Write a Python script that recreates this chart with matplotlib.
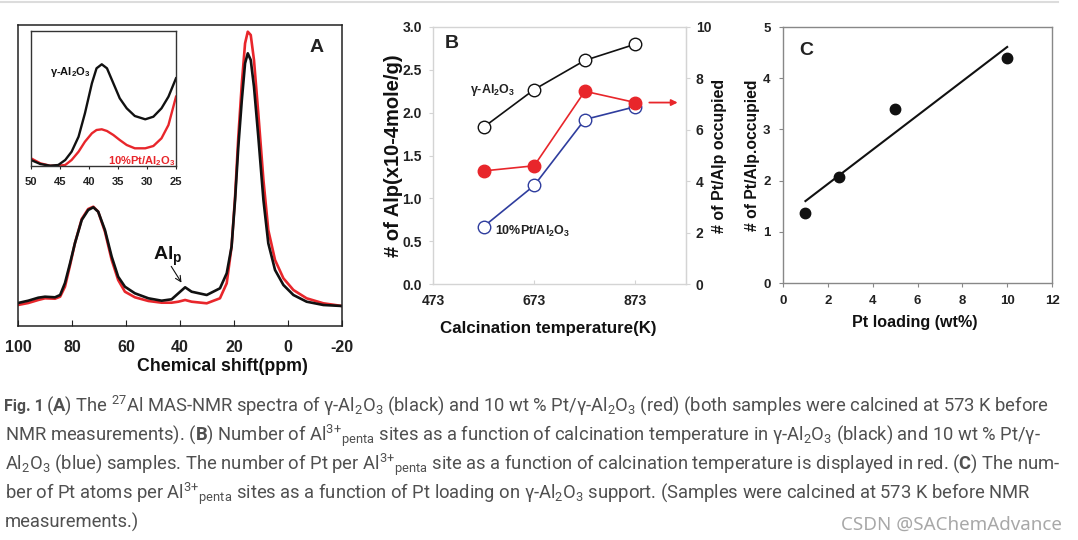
import matplotlib
matplotlib.use("Agg")
import matplotlib.pyplot as plt
from matplotlib.lines import Line2D

plt.rcParams['font.family'] = ['Liberation Sans', 'DejaVu Sans']
plt.rcParams['mathtext.fontset'] = 'custom'
plt.rcParams['mathtext.rm'] = 'Roboto'
plt.rcParams['mathtext.bf'] = 'Roboto:bold'
plt.rcParams['mathtext.default'] = 'regular'

# Panel A: 27Al MAS-NMR spectra (arbitrary intensity units)
ppm = [100, 96.2, 92.5, 90, 86.3, 84.4, 82.6, 80.7, 78.9, 76.4,
       74, 72.1, 70.3, 67.8, 65.3, 62.9, 60.4, 56.7, 51.7, 46.8,
       43.1, 40.6, 38.1, 35.7, 30.1, 25.2, 22.7, 20.9, 19.6, 18.4,
       17.1, 15.9, 14.9, 13.8, 12.6, 11, 9.1, 7.3, 4.8, 1.7,
       -2, -6.9, -13.1, -20]
spec_gamma = [23, 25.3, 28.3, 29.3, 28.7, 31, 43, 63, 83, 106,
              116, 118.7, 114.3, 96, 69.3, 49.3, 39.3, 32.7, 27.7, 25.3,
              26.7, 32.7, 38.7, 34.3, 31, 37.7, 52.7, 79.3, 126, 179.3,
              226, 262.7, 272.7, 266, 239.3, 189.3, 126, 82.7, 56, 41,
              31, 24.3, 21, 20]
spec_pt = [21, 23, 26, 27.7, 27.3, 29.3, 39.3, 61, 83, 107,
           117, 119.3, 114.3, 94.3, 66, 46, 34.3, 28.7, 25, 23.3,
           23.3, 24.3, 26, 24.3, 22.7, 27.7, 42.7, 79.3, 129.3, 189.3,
           242.7, 282.7, 294.3, 291, 266, 212.7, 146, 96, 66, 47.7,
           36, 27.7, 22.7, 20]

# inset (50-25 ppm)
inset_ppm = [50, 48.4, 46.7, 45.3, 44.1, 43, 41.8, 40.7, 39.5, 38.7, 37.8,
             36.9, 35.8, 34.7, 33.5, 32.1, 30.3, 28.9, 27.5, 26.3, 25]
inset_gamma = [6, 2, 0.3, 1, 6, 14.3, 29.3, 52.7, 82.7, 97.7, 101.7,
               97.7, 82.7, 67.7, 57.7, 50, 46.7, 49.3, 57.7, 69.3, 87.7]
inset_pt = [7.7, 2.7, 0.3, 0.3, 1, 6, 14.3, 24.3, 32.7, 36, 36.7,
            35, 31, 26, 21, 17.7, 17.7, 20, 27.7, 41, 69.3]

a_ticks = [100, 80, 60, 40, 20, 0, -20]
inset_ticks = [50, 45, 40, 35, 30, 25]

# Panel B: calcination temperature
temp = [573, 673, 773, 873]
alp_gamma = [1.83, 2.27, 2.61, 2.80]
alp_pt = [0.67, 1.15, 1.92, 2.07]
pt_per_alp = [4.40, 4.60, 7.50, 7.06]
b_xticks = [473, 673, 873]

# Panel C: Pt loading
pt_loading = [1, 2.5, 5, 10]
pt_per_alp_c = [1.37, 2.08, 3.39, 4.40]
fit_x = [1, 10]
fit_y = [1.6, 4.61]

W, H = 1078, 540
fig = plt.figure(figsize=(W / 100, H / 100), dpi=100)

def box(x0, y0, x1, y1):
    return [x0 / W, 1 - y1 / H, (x1 - x0) / W, (y1 - y0) / H]

BLACK = '#111111'
RED = '#e8262b'
BLUE = '#2f3d9e'

# ---------- A ----------
axA = fig.add_axes(box(18, 25, 342, 326))
axA.plot(ppm, spec_pt, color=RED, lw=1.9, solid_joinstyle='round')
axA.plot(ppm, spec_gamma, color=BLACK, lw=1.9, solid_joinstyle='round')
axA.set_xlim(100, -20)
axA.set_ylim(0, 301)
axA.set_yticks([])
axA.set_xticks(a_ticks)
axA.set_xticklabels([str(t) for t in a_ticks])
axA.tick_params(axis='x', direction='in', length=4, pad=10, labelsize=11.5, colors='#222222')
for lab in axA.get_xticklabels():
    lab.set_fontweight('bold')
for sp in axA.spines.values():
    sp.set_color('#222222')
    sp.set_linewidth(1.1)
axA.set_xlabel('Chemical shift(ppm)', fontsize=12.8, fontweight='bold', color='#111111')
axA.xaxis.set_label_coords(0.63, -0.135)
axA.xaxis.label.set_va('center')
axA.text(-10.4, 279, 'A', fontsize=14, fontweight='bold', ha='center', va='center', color='#222222')
axA.text(44.5, 70, 'Al$_p$', fontsize=14, fontweight='bold', ha='center', va='center', color='#111111')
axA.annotate('', xy=(38.9, 41), xytext=(43.8, 62),
             arrowprops=dict(arrowstyle='->', color=BLACK, lw=0.8))

axI = fig.add_axes(box(31, 31, 176, 166))
axI.plot(inset_ppm, inset_pt, color=RED, lw=1.7, solid_joinstyle='round')
axI.plot(inset_ppm, inset_gamma, color=BLACK, lw=1.7, solid_joinstyle='round')
axI.set_xlim(50, 25)
axI.set_ylim(0, 135)
axI.set_yticks([])
axI.set_xticks(inset_ticks)
axI.tick_params(axis='x', direction='out', length=2, pad=6, labelsize=8, colors='#222222')
for lab in axI.get_xticklabels():
    lab.set_fontweight('bold')
for sp in axI.spines.values():
    sp.set_color('#333333')
    sp.set_linewidth(1.0)
axI.text(43.3, 94, 'γ-Al$_2$O$_3$', fontsize=8, fontweight='bold', ha='center', va='center', color=BLACK)
axI.text(25.2, 5, '10%Pt/Al$_2$O$_3$', fontsize=8, fontweight='bold', ha='right', va='center', color=RED)

# ---------- B ----------
LGRAY = '#d4d4d4'
axB = fig.add_axes(box(433, 27, 686, 284))
axB.plot(temp, alp_gamma, color=BLACK, lw=1.2, marker='o', ms=9,
         mfc='white', mec=BLACK, mew=1.0)
axB.plot(temp, alp_pt, color=BLUE, lw=1.2, marker='o', ms=9,
         mfc='white', mec=BLUE, mew=1.0)
axB.set_xlim(473, 973)
axB.set_ylim(0, 3.0)
axB.set_xticks(b_xticks)
axB.set_yticks([0, 0.5, 1.0, 1.5, 2.0, 2.5, 3.0])
axB.set_yticklabels(['0.0', '0.5', '1.0', '1.5', '2.0', '2.5', '3.0'])
axB.tick_params(axis='x', direction='in', length=3, pad=7, labelsize=10, colors=LGRAY, labelcolor='#222222')
axB.tick_params(axis='y', direction='out', length=3, pad=5, labelsize=10, colors=LGRAY, labelcolor='#222222')
for lab in axB.get_xticklabels() + axB.get_yticklabels():
    lab.set_fontweight('bold')
for sp in axB.spines.values():
    sp.set_color(LGRAY)
    sp.set_linewidth(1.0)
axB.set_ylabel('# of Alp(x10-4mole/g)', fontsize=14.5, fontweight='bold', color='#111111')
axB.yaxis.set_label_coords(-0.158, 0.5)
axB.yaxis.label.set_va('center')
axB.set_xlabel('Calcination temperature(K)', fontsize=12.2, fontweight='bold', color='#111111')
axB.xaxis.set_label_coords(0.455, -0.172)
axB.xaxis.label.set_va('center')
axB.text(510, 2.81, 'B', fontsize=14, fontweight='bold', ha='center', va='center', color='#222222')
axB.text(590, 2.265, 'γ-Al$_2$O$_3$', fontsize=9, fontweight='bold', ha='center', va='center', color='#222222')
axB.text(669, 0.61, '10%Pt/Al$_2$O$_3$', fontsize=9, fontweight='bold', ha='center', va='center', color='#222222')

axB2 = axB.twinx()
axB2.plot(temp, pt_per_alp, color=RED, lw=1.2, marker='o', ms=9,
          mfc=RED, mec=RED, mew=1.0)
axB2.set_ylim(0, 10)
axB2.set_yticks([0, 2, 4, 6, 8, 10])
axB2.tick_params(axis='y', direction='out', length=3, pad=4, labelsize=10, colors=LGRAY, labelcolor='#222222')
for lab in axB2.get_yticklabels():
    lab.set_fontweight('bold')
for name, sp in axB2.spines.items():
    sp.set_visible(name == 'right')
    sp.set_color(LGRAY)
axB2.set_ylabel('# of Pt/Alp occupied', fontsize=11.5, fontweight='bold', color='#111111')
axB2.yaxis.set_label_coords(1.134, 0.5)
axB2.yaxis.label.set_va('center')
axB2.annotate('', xy=(962, 7.06), xytext=(895, 7.06),
              arrowprops=dict(arrowstyle='-|>', color=RED, lw=1.3, mutation_scale=9))

# ---------- C ----------
axC = fig.add_axes(box(783, 27, 1052, 283))
axC.plot(fit_x, fit_y, color=BLACK, lw=1.5)
axC.plot(pt_loading, pt_per_alp_c, 'o', color=BLACK, ms=7.5)
axC.set_xlim(0, 12)
axC.set_ylim(0, 5)
axC.set_xticks(range(0, 13, 2))
axC.set_yticks(range(0, 6))
axC.tick_params(direction='out', length=3, pad=6, labelsize=9.5, colors='#888888', labelcolor='#222222')
for lab in axC.get_xticklabels() + axC.get_yticklabels():
    lab.set_fontweight('bold')
for sp in axC.spines.values():
    sp.set_color('#888888')
    sp.set_linewidth(1.0)
axC.set_ylabel('# of Pt/Alp.occupied', fontsize=11.3, fontweight='bold', color='#111111')
axC.yaxis.set_label_coords(-0.115, 0.5)
axC.yaxis.label.set_va('center')
axC.set_xlabel('Pt loading (wt%)', fontsize=11.6, fontweight='bold', color='#111111')
axC.xaxis.set_label_coords(0.49, -0.156)
axC.xaxis.label.set_va('center')
axC.text(1.03, 4.55, 'C', fontsize=14, fontweight='bold', ha='center', va='center', color='#222222')

# ---------- caption ----------
fig.add_artist(Line2D([0, 1058 / W], [1 - 1.5 / H] * 2, color='#dcdcdc', lw=1.5))

cap_color = '#505050'
cap_size = 13.2
fig.text(4 / W, 1 - 411 / H, 'Fig. 1', fontsize=11.4, fontweight='bold',
         family='Roboto', color=cap_color, va='baseline')
caption = [
    (46, 411, r'($\mathbf{A}$) The $^{27}$Al MAS-NMR spectra of γ-Al$_2$O$_3$ (black) and 10 wt % Pt/γ-Al$_2$O$_3$ (red) (both samples were calcined at 573 K before'),
    (5, 441, r'NMR measurements). ($\mathbf{B}$) Number of Al$^{3{+}}$$_{penta}$ sites as a function of calcination temperature in γ-Al$_2$O$_3$ (black) and 10 wt % Pt/γ-'),
    (5, 470, r'Al$_2$O$_3$ (blue) samples. The number of Pt per Al$^{3{+}}$$_{penta}$ site as a function of calcination temperature is displayed in red. ($\mathbf{C}$) The num-'),
    (5, 499, r'ber of Pt atoms per Al$^{3{+}}$$_{penta}$ sites as a function of Pt loading on γ-Al$_2$O$_3$ support. (Samples were calcined at 573 K before NMR'),
    (5, 528, r'measurements.)'),
]
for x, y, s in caption:
    fig.text(x / W, 1 - y / H, s, fontsize=cap_size, family='Roboto',
             color=cap_color, va='baseline')

fig.text(1062 / W, 1 - 530 / H, 'CSDN @SAChemAdvance', fontsize=13.5,
         family='Noto Sans', color='#a8a8a8', ha='right', va='baseline')

fig.savefig('out.png', dpi=100)
